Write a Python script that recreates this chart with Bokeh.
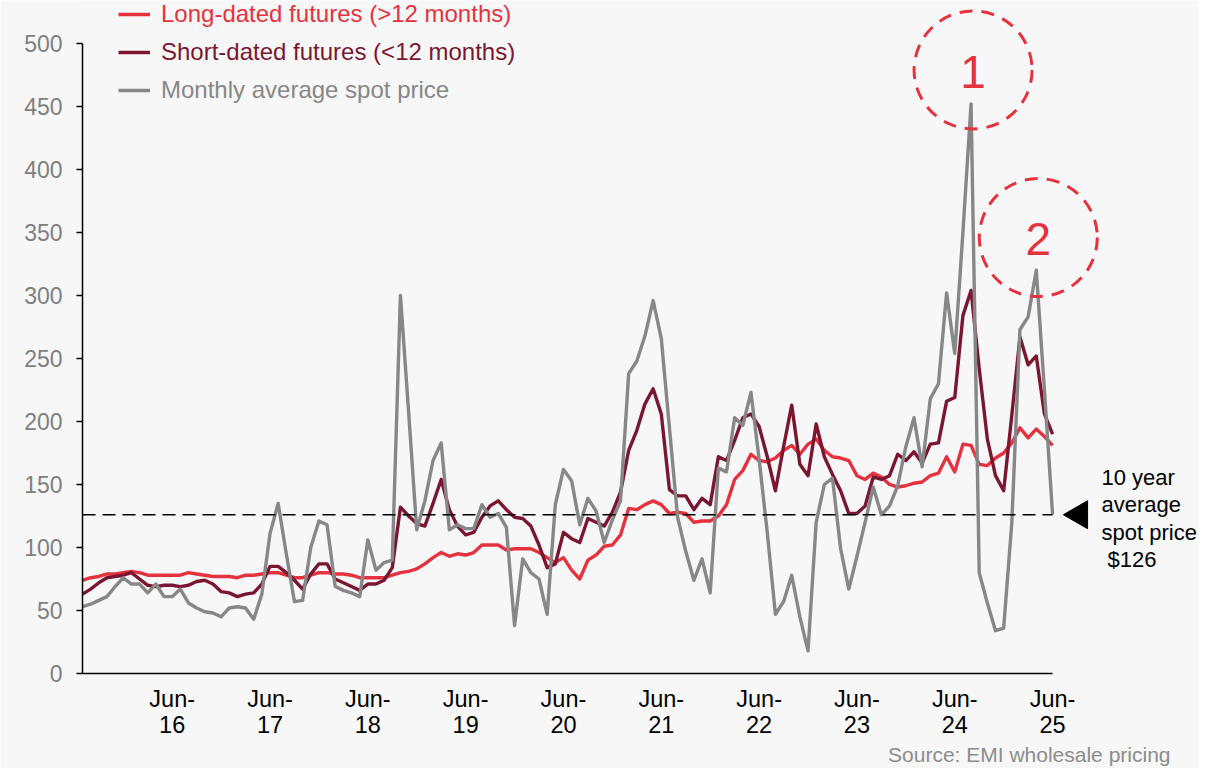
import math
from bokeh.plotting import figure
from bokeh.models import (ColumnDataSource, Range1d, FixedTicker, Legend,
                          LegendItem, Title)
from bokeh.core.properties import value
from bokeh.embed import file_html
from bokeh.resources import INLINE

# ---------------- data (monthly, Jul-2015 .. Jun-2025) ----------------
long_dated = [74, 76, 77, 79, 79, 80, 81, 80, 78, 78,
              78, 78, 78, 80, 79, 78, 77, 77, 77, 76,
              78, 78, 79, 80, 80, 78, 76, 76, 78, 80,
              80, 79, 79, 78, 76, 76, 76, 76, 78, 80,
              81, 83, 87, 92, 96, 93, 95, 94, 96, 102,
              102, 102, 98, 99, 99, 99, 96, 92, 88, 92,
              82, 75, 90, 94, 101, 102, 110, 131, 130, 134,
              137, 134, 127, 128, 127, 120, 121, 121, 125, 134,
              154, 161, 174, 169, 168, 171, 177, 181, 174, 182,
              186, 177, 172, 171, 169, 157, 154, 159, 156, 150,
              148, 149, 151, 152, 157, 159, 172, 160, 182, 181,
              166, 165, 171, 175, 183, 195, 187, 194, 188, 181]

short_dated = [63, 67, 72, 76, 77, 78, 80, 75, 70, 69,
               70, 70, 69, 70, 73, 74, 71, 65, 64, 61,
               63, 64, 71, 85, 85, 80, 74, 67, 79, 87,
               87, 75, 72, 69, 66, 71, 71, 74, 84, 132,
               125, 119, 117, 135, 154, 130, 117, 110, 112, 124,
               133, 137, 130, 124, 123, 117, 102, 84, 87, 112,
               107, 104, 123, 120, 117, 128, 144, 177, 193, 214,
               226, 206, 146, 141, 141, 130, 139, 134, 172, 169,
               185, 203, 206, 196, 172, 145, 180, 213, 166, 157,
               198, 172, 158, 145, 127, 127, 133, 156, 154, 157,
               174, 169, 176, 167, 182, 183, 216, 219, 284, 304,
               242, 186, 157, 145, 205, 267, 245, 252, 206, 190]

spot = [53, 55, 58, 61, 69, 76, 71, 71, 64, 71,
        61, 61, 67, 56, 52, 49, 48, 45, 52, 53,
        52, 43, 63, 111, 135, 95, 57, 58, 100, 121,
        118, 69, 66, 64, 61, 106, 82, 88, 90, 300,
        208, 114, 137, 169, 183, 114, 118, 115, 115, 134,
        124, 127, 116, 38, 91, 80, 75, 47, 134, 162,
        153, 118, 139, 129, 104, 122, 137, 238, 248, 268,
        296, 266, 195, 124, 97, 74, 91, 64, 163, 160,
        203, 197, 223, 170, 112, 47, 57, 78, 45, 18,
        120, 150, 155, 99, 67, 93, 120, 148, 126, 133,
        149, 180, 203, 164, 218, 230, 302, 254, 350, 452,
        80, 56, 34, 36, 120, 273, 283, 320, 225, 126]

tick_labels = ["Jun-16", "Jun-17", "Jun-18", "Jun-19", "Jun-20",
               "Jun-21", "Jun-22", "Jun-23", "Jun-24", "Jun-25"]
tick_months = [11, 23, 35, 47, 59, 71, 83, 95, 107, 119]
series_names = ["Long-dated futures (>12 months)",
                "Short-dated futures (<12 months)",
                "Monthly average spot price"]
avg_spot = 126
avg_text = "10 year\naverage\nspot price\n\u00a0$126"
source_text = "Source: EMI wholesale pricing"

# ---------------- styles ----------------
BG = "#f7f7f7"
RED = "#e5323e"
MAROON = "#7b1631"
GREY = "#878787"
FONT = "Liberation Sans"

month = list(range(len(spot)))
src = ColumnDataSource(dict(month=month, long=long_dated,
                            short=short_dated, spot=spot))

p = figure(width=1198, height=768, output_backend="svg",
           toolbar_location=None,
           x_range=Range1d(0, 136.9), y_range=Range1d(0, 534.1),
           min_border_left=82, min_border_right=0,
           min_border_top=0, min_border_bottom=95)
p.background_fill_color = BG
p.border_fill_color = BG
p.outline_line_color = None
p.xgrid.grid_line_color = None
p.ygrid.grid_line_color = None

ya = p.yaxis[0]
ya.bounds = (0, 500)
ya.ticker = FixedTicker(ticks=list(range(0, 501, 50)))
ya.axis_line_color = "black"
ya.axis_line_width = 1.5
ya.major_tick_line_color = "black"
ya.major_tick_line_width = 1.5
ya.major_tick_out = 6
ya.major_tick_in = 0
ya.minor_tick_line_color = None
ya.major_label_text_color = "#7f7f7f"
ya.major_label_text_font = FONT
ya.major_label_text_font_size = "23px"
ya.major_label_standoff = 14

xa = p.xaxis[0]
xa.bounds = (0, len(spot) - 1)
xa.ticker = FixedTicker(ticks=tick_months)
xa.major_label_overrides = {m: lab.replace("-", "-\n")
                            for m, lab in zip(tick_months, tick_labels)}
xa.axis_line_color = "black"
xa.axis_line_width = 1.5
xa.major_tick_out = 0
xa.major_tick_in = 0
xa.minor_tick_line_color = None
xa.major_label_text_color = "black"
xa.major_label_text_font = FONT
xa.major_label_text_font_size = "23.5px"
xa.major_label_text_line_height = 1.0
xa.major_label_standoff = 12

r_long = p.line("month", "long", source=src, line_color=RED,
                line_width=3.4, line_join="round")
r_short = p.line("month", "short", source=src, line_color=MAROON,
                 line_width=3.4, line_join="round")
r_spot = p.line("month", "spot", source=src, line_color=GREY,
                line_width=3.4, line_join="round")

# 10 year average line
p.line([month[0], month[-1]], [avg_spot, avg_spot], line_color="black",
       line_width=1.5, line_dash="13 7")

# arrow marker & label
last = month[-1]
p.scatter([last + 3.3], [avg_spot], marker="triangle", size=28,
          angle=math.pi / 2, fill_color="black", line_color="black")
p.text([last + 6.0], [avg_spot - 3], text=[avg_text],
       text_font=value(FONT), text_font_size="22px", text_color="black",
       text_align="left", text_baseline="middle", text_line_height=1.1)

# highlighted peaks
peak1 = spot.index(max(spot))
peak2 = max(range(112, len(spot)), key=lambda i: spot[i])
cx = [peak1 + 0.25, peak2 + 0.25]
cy = [spot[peak1] + 27, spot[peak2] + 26]
p.scatter(cx, cy, marker="circle", size=118, fill_color=None,
          line_color=RED, line_width=3, line_dash="13 9")
p.text(cx, [cy[0] - 1.5, cy[1] - 1.5], text=["1", "2"],
       text_font=value(FONT), text_font_size="46px", text_color=RED,
       text_align="center", text_baseline="middle")

# legends (one per series, coloured text)
for k, (name, r, col) in enumerate(zip(series_names,
                                       [r_long, r_short, r_spot],
                                       [RED, MAROON, GREY])):
    leg = Legend(items=[LegendItem(label=name, renderers=[r])],
                 location=(36, 645 - 38 * k))
    leg.label_text_color = col
    leg.label_text_font = FONT
    leg.label_text_font_size = "24px"
    leg.glyph_width = 32
    leg.glyph_height = 20
    leg.label_standoff = 11
    leg.padding = 0
    leg.margin = 0
    leg.spacing = 0
    leg.border_line_color = None
    leg.background_fill_alpha = 0
    p.add_layout(leg)

src_title = Title(text=source_text, align="right", offset=28, standoff=0,
                  text_font=FONT, text_font_size="21px",
                  text_font_style="normal", text_color="#8c8c8c")
p.add_layout(src_title, "below")

open("out.html", "w").write(file_html(p, INLINE))
